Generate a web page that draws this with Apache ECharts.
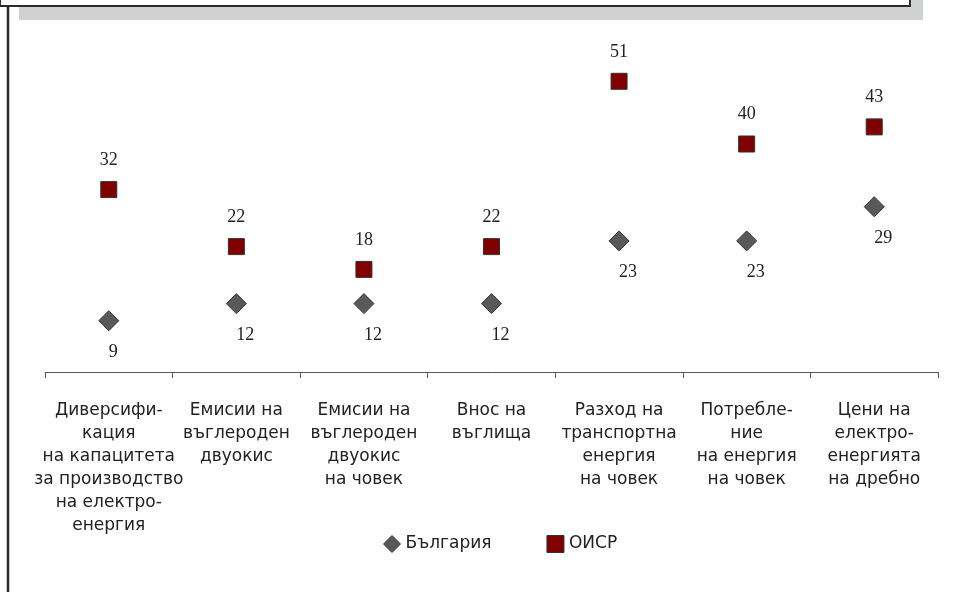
<!DOCTYPE html>
<html>
<head>
<meta charset="utf-8">
<script src="https://cdn.jsdelivr.net/npm/echarts@6/dist/echarts.min.js"></script>
<style>
  html, body { margin: 0; padding: 0; background: #fff; }
  #chart-container { width: 961px; height: 592px; }
</style>
</head>
<body>
<div id="chart-container"></div>
<script>
// Data
const categories = [
  "Диверсифи-\nкация\nна капацитета\nза производство\nна електро-\nенергия",
  "Емисии на\nвъглероден\nдвуокис",
  "Емисии на\nвъглероден\nдвуокис\nна човек",
  "Внос на\nвъглища",
  "Разход на\nтранспортна\nенергия\nна човек",
  "Потребле-\nние\nна енергия\nна човек",
  "Цени на\nелектро-\nенергията\nна дребно"
];
const bulgaria = [9, 12, 12, 12, 23, 23, 29];
const oecd = [32, 22, 18, 22, 51, 40, 43];

const dom = document.getElementById("chart-container");
const myChart = echarts.init(dom, null, { renderer: "canvas" });

const option = {
  animation: false,
  grid: { left: 45, right: 23, top: 30, bottom: 220 },
  // frame decoration at the top and left edge
  graphic: [
    { type: "rect", shape: { x: 19, y: 0, width: 904, height: 20 }, style: { fill: "#d0d1d3" } },
    { type: "rect", shape: { x: 0, y: -10, width: 910, height: 16 }, style: { fill: "#fff", stroke: "#2b2b2b", lineWidth: 2 } },
    { type: "line", shape: { x1: 8, y1: 6, x2: 8, y2: 592 }, style: { stroke: "#2b2b2b", lineWidth: 2.5 } }
  ],
  legend: {
    bottom: 34,
    left: 378,
    itemWidth: 17,
    itemHeight: 17,
    itemGap: 55,
    itemStyle: { borderWidth: 1 },
    textStyle: { fontFamily: "DejaVu Sans", fontSize: 17, color: "#222" },
    data: ["България", "ОИСР"]
  },
  xAxis: {
    type: "category",
    data: categories,
    offset: 3,
    axisLine: { lineStyle: { color: "#555", width: 1 } },
    axisTick: { show: true, length: 6, lineStyle: { color: "#555" } },
    axisLabel: {
      interval: 0,
      margin: 24,
      fontFamily: "DejaVu Sans",
      fontSize: 17,
      lineHeight: 23,
      color: "#222",
      align: "center"
    }
  },
  yAxis: {
    type: "value",
    min: 0,
    max: 60,
    show: false,
    splitLine: { show: false }
  },
  series: [
    {
      name: "България",
      type: "scatter",
      symbol: "diamond",
      symbolSize: 20,
      data: bulgaria,
      itemStyle: { color: "#595959", borderColor: "#333", borderWidth: 1, opacity: 1 },
      label: {
        show: true,
        position: "bottom",
        distance: 12,
        align: "left",
        fontFamily: "Liberation Serif",
        fontSize: 18,
        color: "#222"
      }
    },
    {
      name: "ОИСР",
      type: "scatter",
      symbol: "rect",
      symbolSize: 16,
      data: oecd,
      itemStyle: { color: "#800000", borderColor: "#333", borderWidth: 1, opacity: 1 },
      label: {
        show: true,
        position: "top",
        distance: 12,
        fontFamily: "Liberation Serif",
        fontSize: 18,
        color: "#222"
      }
    }
  ]
};

myChart.setOption(option);
window.addEventListener("resize", myChart.resize);
</script>
</body>
</html>
